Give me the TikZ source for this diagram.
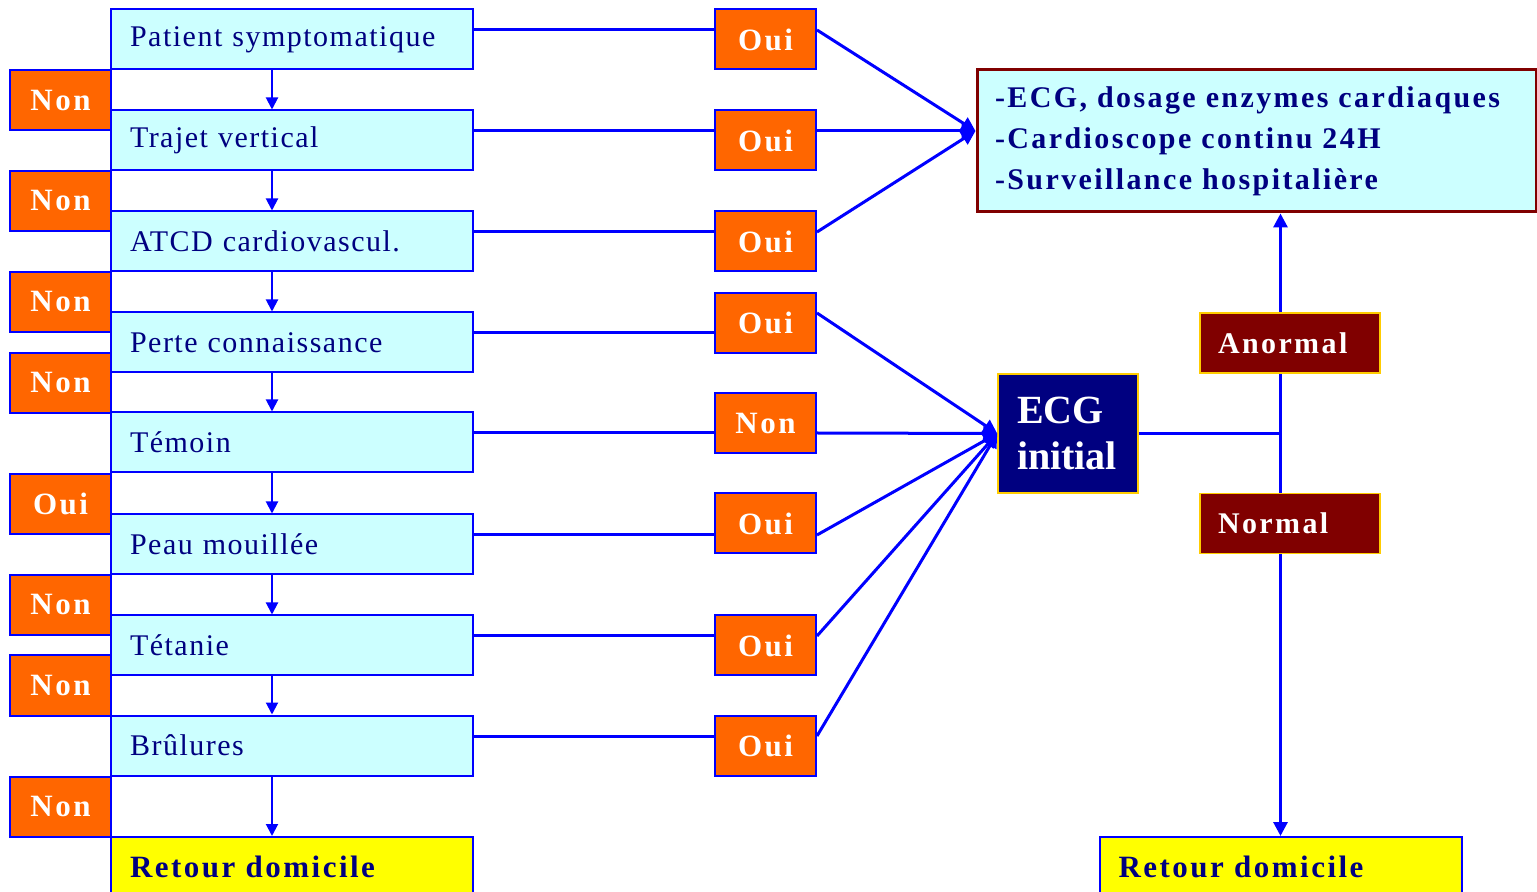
\documentclass[tikz,border=0pt]{standalone}
\usepackage{fontspec}
\setmainfont{Liberation Serif}
\newfontfamily\trackedfont[LetterSpace=5]{Liberation Serif}
\newfontfamily\heavyfont[LetterSpace=8]{Liberation Serif}
\usetikzlibrary{arrows.meta,positioning,calc}
\definecolor{boxCyan}{RGB}{204,255,255}
\definecolor{lineBlue}{RGB}{0,0,255}
\definecolor{answerOrange}{RGB}{255,102,0}
\definecolor{textNavy}{RGB}{0,0,128}
\definecolor{resultRed}{RGB}{128,0,0}
\definecolor{edgeGold}{RGB}{255,204,0}
\definecolor{homeYellow}{RGB}{255,255,0}
\tikzset{
  question/.style={draw=lineBlue, line width=1pt, fill=boxCyan, text=textNavy, minimum width=181pt, minimum height=30pt, text width=162pt, inner xsep=9.5pt, inner ysep=0pt, align=left, font=\trackedfont\fontsize{15}{18}\selectfont},
  home/.style={question, fill=homeYellow, font=\heavyfont\bfseries\fontsize{15.5}{18}\selectfont},
  answer/.style={draw=lineBlue, line width=1pt, fill=answerOrange, text=white, minimum width=50.5pt, minimum height=30pt, inner sep=0pt, align=center, font=\heavyfont\bfseries\fontsize{15.5}{18}\selectfont},
  care/.style={draw=resultRed, line width=1.5pt, fill=boxCyan, text=textNavy, minimum width=279.5pt, minimum height=71pt, text width=261.5pt, inner xsep=9pt, align=left, font=\heavyfont\bfseries\fontsize{15}{20.5}\selectfont},
  ecgbox/.style={draw=edgeGold, line width=0.75pt, fill=textNavy, text=white, minimum width=70pt, minimum height=59.5pt, text width=51pt, inner xsep=9.5pt, align=left, font=\bfseries\fontsize{20}{23}\selectfont},
  verdict/.style={draw=edgeGold, line width=0.75pt, fill=resultRed, text=white, minimum width=90pt, minimum height=30pt, text width=72pt, inner xsep=9pt, align=left, font=\heavyfont\bfseries\fontsize{15}{18}\selectfont},
  down/.style={draw=lineBlue, line width=1pt, -{Triangle[length=6pt,width=6pt]}},
  link/.style={draw=lineBlue, line width=1.5pt},
  linkarrow/.style={link, -{Triangle[length=7pt,width=7pt]}}
}

\begin{document}
\begin{tikzpicture}[x=0.5pt,y=-0.5pt]
  \useasboundingbox (0,0) rectangle (1537,892);

  % Question column
  \node[question] (patient) at (292,39.5) {Patient symptomatique};
  \node[question] (trajet) at (292,140.5) {Trajet vertical};
  \node[question] (atcd) at (292,241.5) {ATCD cardiovascul.};
  \node[question] (perte) at (292,342.5) {Perte connaissance};
  \node[question] (temoin) at (292,442.5) {Témoin};
  \node[question] (peau) at (292,544.5) {Peau mouillée};
  \node[question] (tetanie) at (292,645.5) {Tétanie};
  \node[question] (brulures) at (292,745.5) {Brûlures};
  \node[home] (homeL) at (292,867) {Retour domicile};

  % Answers on the left side
  \node[answer] (left1) at (60.5,100.5) {Non};
  \node[answer] (left2) at (60.5,201) {Non};
  \node[answer] (left3) at (60.5,302) {Non};
  \node[answer] (left4) at (60.5,383) {Non};
  \node[answer] (left5) at (60.5,504) {Oui};
  \node[answer] (left6) at (60.5,605) {Non};
  \node[answer] (left7) at (60.5,685.5) {Non};
  \node[answer] (left8) at (60.5,807) {Non};

  % Answers on the right side
  \node[answer] (right1) at (765.5,39.5) {Oui};
  \node[answer] (right2) at (765.5,140.5) {Oui};
  \node[answer] (right3) at (765.5,241.5) {Oui};
  \node[answer] (right4) at (765.5,323) {Oui};
  \node[answer] (right5) at (765.5,423.5) {Non};
  \node[answer] (right6) at (765.5,523.5) {Oui};
  \node[answer] (right7) at (765.5,645.5) {Oui};
  \node[answer] (right8) at (765.5,745.5) {Oui};

  % Outcomes
  \node[care] (care) at (1256.5,141) {-ECG, dosage enzymes cardiaques\\-Cardioscope continu 24H\\-Surveillance hospitalière};
  \node[ecgbox] (ecg) at (1068,433.5) {ECG\\initial};
  \node[home] (homeR) at (1280.5,867) {Retour domicile};

  % Question chain
  \draw[down] ([xshift=-10pt]patient.south) -- ([xshift=-10pt]trajet.north);
  \draw[down] ([xshift=-10pt]trajet.south) -- ([xshift=-10pt]atcd.north);
  \draw[down] ([xshift=-10pt]atcd.south) -- ([xshift=-10pt]perte.north);
  \draw[down] ([xshift=-10pt]perte.south) -- ([xshift=-10pt]temoin.north);
  \draw[down] ([xshift=-10pt]temoin.south) -- ([xshift=-10pt]peau.north);
  \draw[down] ([xshift=-10pt]peau.south) -- ([xshift=-10pt]tetanie.north);
  \draw[down] ([xshift=-10pt]tetanie.south) -- ([xshift=-10pt]brulures.north);
  \draw[down] ([xshift=-10pt]brulures.south) -- ([xshift=-10pt]homeL.north);

  % Question to answer lines
  \coordinate (row1) at ([yshift=4.75pt]patient.east);
  \coordinate (row2) at ([yshift=4.75pt]trajet.east);
  \coordinate (row3) at ([yshift=4.75pt]atcd.east);
  \coordinate (row4) at ([yshift=4.75pt]perte.east);
  \coordinate (row5) at ([yshift=4.75pt]temoin.east);
  \coordinate (row6) at ([yshift=4.75pt]peau.east);
  \coordinate (row7) at ([yshift=4.75pt]tetanie.east);
  \coordinate (row8) at ([yshift=4.75pt]brulures.east);
  \draw[link] (row1) -- (row1 -| right1.west);
  \draw[link] (row2) -- (row2 -| right2.west);
  \draw[link] (row3) -- (row3 -| right3.west);
  \draw[link] (row4) -- (row4 -| right4.west);
  \draw[link] (row5) -- (row5 -| right5.west);
  \draw[link] (row6) -- (row6 -| right6.west);
  \draw[link] (row7) -- (row7 -| right7.west);
  \draw[link] (row8) -- (row8 -| right8.west);

  % Answers to outcomes
  \draw[linkarrow] (row1 -| right1.east) -- (care.west |- row2);
  \draw[linkarrow] (row2 -| right2.east) -- (care.west |- row2);
  \draw[linkarrow] (row3 -| right3.east) -- (care.west |- row2);
  \draw[linkarrow] ([yshift=5pt]right4.east) -- (ecg.west);
  \draw[linkarrow] (row5 -| right5.east) -- (ecg.west);
  \draw[linkarrow] (row6 -| right6.east) -- (ecg.west);
  \draw[linkarrow] (row7 -| right7.east) -- (ecg.west);
  \draw[linkarrow] (row8 -| right8.east) -- (ecg.west);

  % ECG result branch
  \coordinate (fork) at (ecg.east -| homeR.north);
  \draw[link] (ecg.east) -- (fork);
  \draw[linkarrow] (fork) -- (fork |- care.south);
  \draw[linkarrow] (fork) -- (homeR.north);
  \node[verdict] (anormal) at (1290,343) {Anormal};
  \node[verdict] (normal) at (1290,523.5) {Normal};
\end{tikzpicture}
\end{document}
